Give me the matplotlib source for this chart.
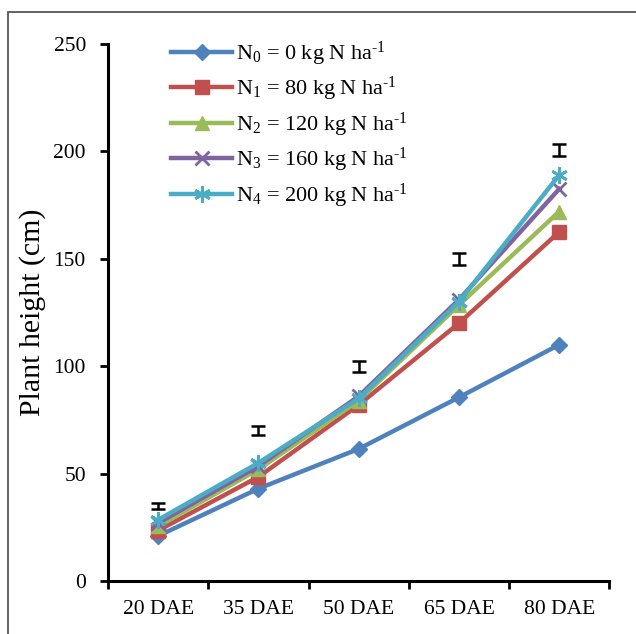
import matplotlib
matplotlib.use("Agg")
import matplotlib.pyplot as plt
from matplotlib.patches import Rectangle
import numpy as np

plt.rcParams['font.family'] = ['Liberation Serif', 'DejaVu Serif']
plt.rcParams['mathtext.fontset'] = 'custom'
plt.rcParams['mathtext.rm'] = 'Liberation Serif'
plt.rcParams['mathtext.it'] = 'Liberation Serif:italic'

# data
stages = ['20 DAE', '35 DAE', '50 DAE', '65 DAE', '80 DAE']
n0 = [21, 43, 61.5, 85.5, 110]
n1 = [23.5, 48.5, 82, 120, 162.5]
n2 = [25.5, 52, 84, 128.5, 172]
n3 = [27, 53.5, 86, 131, 182.5]
n4 = [28.5, 55, 85, 130, 189]
lsd_pos = [35, 70, 100, 150, 200.5]
lsd_err = [1.5, 2, 2.6, 2.8, 2.8]

labels = [r'N$_0$ = 0 kg N ha$^{\text{-1}}$',
          r'N$_1$ = 80 kg N ha$^{\text{-1}}$',
          r'N$_2$ = 120 kg N ha$^{\text{-1}}$',
          r'N$_3$ = 160 kg N ha$^{\text{-1}}$',
          r'N$_4$ = 200 kg N ha$^{\text{-1}}$']
colors = ['#4F81BD', '#C0504D', '#9BBB59', '#8064A2', '#4BACC6']
markers = ['D', 's', '^', 'x', (6, 2, 0)]
msizes = [8, 10, 10, 10, 12]

fig = plt.figure(figsize=(6.36, 6.34), dpi=100)
ax = fig.add_axes([0.170, 0.0836, 0.788, 0.847])

x = np.arange(len(stages))
for ys, c, m, ms, lab in zip([n0, n1, n2, n3, n4], colors, markers, msizes, labels):
    ax.plot(x, ys, color=c, marker=m, markersize=ms, lw=3.2, label=lab,
            markeredgewidth=2 if m in ('x', (6, 2, 0)) else 1, markeredgecolor=c)

# LSD bars
ax.errorbar(x, lsd_pos, yerr=lsd_err, fmt='none', ecolor='black',
            elinewidth=1.8, capsize=5, capthick=1.8)

ax.set_xlim(-0.5, 4.5)
ax.set_ylim(0, 250)
ax.set_yticks([0, 50, 100, 150, 200, 250])
ax.set_xticks(np.arange(-0.5, 5, 1))
ax.set_xticklabels([])
ax.set_xticks(x, minor=True)
ax.set_xticklabels(stages, minor=True)
ax.tick_params(axis='x', which='minor', length=0, pad=14, labelsize=15.5)
ax.tick_params(axis='x', which='major', length=6, width=2, direction='out')
ax.tick_params(axis='y', length=6, width=2, direction='out', labelsize=15.5, pad=10)

for s in ['top', 'right']:
    ax.spines[s].set_visible(False)
for s in ['left', 'bottom']:
    ax.spines[s].set_linewidth(2.2)

ax.set_ylabel('Plant height (cm)', fontsize=21.5, labelpad=5)

ax.legend(loc='upper left', bbox_to_anchor=(0.255, 0.952), bbox_transform=fig.transFigure,
          frameon=False, fontsize=16, handlelength=2.75, handletextpad=0.15,
          labelspacing=0.33, borderaxespad=0)

fig.patches.append(Rectangle((0.0126, -0.1), 1.2, 1.081, transform=fig.transFigure,
                             fill=False, edgecolor='#555555', lw=1.3))

fig.savefig('out.png', dpi=100)
